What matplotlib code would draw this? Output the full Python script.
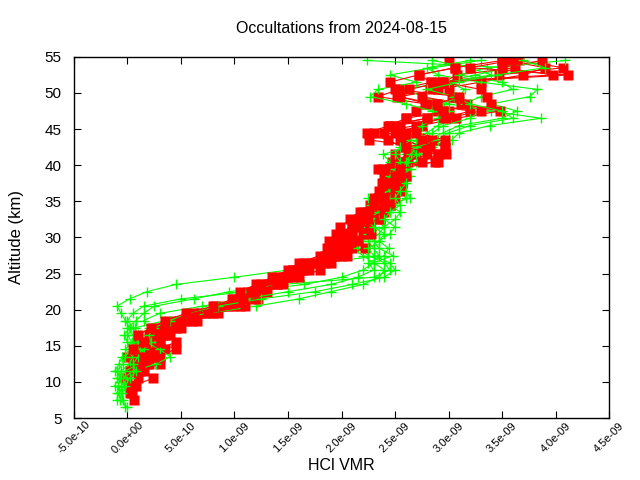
import numpy as np
import matplotlib
matplotlib.use("Agg")
import matplotlib.pyplot as plt

plt.rcParams['font.family'] = ['Liberation Sans', 'DejaVu Sans']

nan = np.nan
SCALE = 1e-9

# axis ticks
x_ticks = [-5e-10, 0.0, 5e-10, 1e-9, 1.5e-9, 2e-9, 2.5e-9, 3e-9, 3.5e-9, 4e-9, 4.5e-9]
x_tick_labels = ['-5.0e-10', '0.0e+00', '5.0e-10', '1.0e-09', '1.5e-09', '2.0e-09',
                 '2.5e-09', '3.0e-09', '3.5e-09', '4.0e-09', '4.5e-09']
y_ticks = [5, 10, 15, 20, 25, 30, 35, 40, 45, 50, 55]

# altitude grids (km)
green_alt = [6.5, 7.5, 8.5, 9.5, 10.5, 11.5, 12.5, 13.5, 14.5, 15.5,
             16.5, 17.5, 18.5, 19.5, 20.5, 21.5, 22.5, 23.5, 24.5, 25.5,
             26.5, 27.5, 28.5, 29.5, 30.5, 31.5, 32.5, 33.5, 34.5, 35.5,
             36.5, 37.5, 38.5, 39.5, 40.5, 41.5, 42.5, 43.5, 44.5, 45.5,
             46.5, 47.5, 48.5, 49.5, 50.5, 51.5, 52.5, 53.5, 54.5]
red_alt = green_alt[1:]

# HCl VMR profiles, units of 1e-9
green_1 = [0.0, -0.07, -0.05, -0.09, -0.06, -0.1, -0.04, -0.02, 0.03, 0.0,
           -0.03, 0.02, -0.02, -0.06, -0.1, 0.02, 0.18, 0.45, 1.0, 1.5,
           1.85, 2.35, 2.3, 2.25, 2.35, 2.4, 2.3, 2.45, 2.5, 2.6,
           2.55, 2.5, 2.62, 2.58, 2.7, 2.72, 2.85, 3.03, 3.1, 3.39,
           3.86, 3.4, 3.0, 2.75, 2.6, 2.95, 3.25, 3.55, 2.24]
green_2 = [nan, -0.1, -0.08, -0.03, -0.1, -0.06, 0.02, 0.05, -0.02, 0.04,
           0.0, 0.05, 0.0, 0.05, 0.15, 0.5, 1.1, 1.65, 2.0, 2.2,
           2.3, 2.2, 2.1, 2.2, 2.3, 2.25, 2.35, 2.4, 2.35, 2.45,
           2.5, 2.55, 2.5, 2.6, 2.65, 2.6, 2.75, 2.8, 2.95, 3.1,
           3.5, 3.64, 3.4, 3.76, 3.83, 3.3, 2.9, 2.8, 3.2]
green_3 = [-0.02, -0.04, -0.1, -0.06, 0.0, -0.12, -0.08, -0.05, 0.08, 0.1,
           0.05, 0.0, 0.08, 0.15, 0.25, 0.62, 0.95, 1.45, 2.3, 2.45,
           2.4, 2.25, 2.15, 2.1, 2.2, 2.3, 2.22, 2.3, 2.28, 2.25,
           2.4, 2.45, 2.55, 2.5, 2.45, 2.39, 2.6, 2.7, 2.8, 2.9,
           3.05, 2.85, 2.6, 2.27, 2.34, 2.7, 2.45, 2.85, 3.3]
green_4 = [nan, nan, -0.05, -0.12, -0.08, -0.02, 0.1, 0.2, 0.12, 0.05,
           0.1, 0.07, 0.35, 0.75, 1.2, 1.6, 1.9, 2.2, 2.35, 2.4,
           2.3, 2.48, 2.35, 2.3, 2.25, 2.4, 2.5, 2.55, 2.45, 2.64,
           2.6, 2.58, 2.64, 2.55, 2.62, 2.7, 2.65, 2.75, 2.85, 2.95,
           3.2, 3.3, 3.15, 3.3, 3.6, 3.5, 3.1, 3.36, 4.09]
green_5 = [nan, nan, nan, nan, -0.04, 0.05, 0.27, 0.4, 0.3, 0.18,
           0.12, 0.2, 0.15, 0.3, 0.7, 1.1, 1.5, 1.9, 2.15, 2.3,
           2.25, 2.4, 2.44, 2.35, 2.4, 2.3, 2.22, 2.35, 2.3, 2.3,
           2.45, 2.4, 2.45, 2.5, 2.55, 2.5, 2.55, 2.65, 2.7, 2.75,
           2.9, 3.0, 2.95, 3.1, 3.15, 3.0, 3.4, 3.2, 2.85]
green_6 = [nan, nan, nan, -0.02, 0.02, 0.08, 0.05, 0.1, 0.15, 0.22,
           0.2, 0.25, 0.4, 0.55, 0.85, 1.25, 1.75, 2.1, 2.4, 2.5,
           2.45, 2.3, 2.25, 2.35, 2.45, 2.5, 2.4, 2.45, 2.55, 2.5,
           2.55, 2.6, 2.55, 2.65, 2.6, 2.65, 2.7, 2.9, 3.0, 3.2,
           3.6, 3.5, 3.2, 3.05, 2.8, 3.1, 3.45, 3.9, 3.7]

red_1 = [0.06, 0.04, 0.03, -0.02, 0.05, 0.1, 0.0, 0.12, 0.1, 0.25,
         0.33, 0.44, 0.68, 0.9, 1.0, 1.13, 1.3, 1.45, 1.6, 1.75,
         1.85, 1.95, 2.05, 2.1, 2.2, 2.15, 2.3, 2.35, 2.45, 2.5,
         2.45, 2.55, 2.6, 2.55, 2.7, 2.75, 2.26, 2.3, 2.7, 2.95,
         3.2, 2.8, 2.55, 2.9, 3.3, 3.7, 3.9, 3.55]
red_2 = [nan, nan, 0.08, 0.0, 0.1, 0.05, 0.08, 0.2, 0.3, 0.28,
         0.4, 0.55, 0.8, 1.0, 1.1, 1.2, 1.35, 1.5, 1.64, 1.77,
         1.92, 2.0, 1.88, 2.0, 1.99, 2.08, 2.17, 2.27, 2.34, 2.39,
         2.38, 2.4, 2.34, 2.47, 2.5, 2.58, 2.43, 2.24, 2.45, 2.6,
         2.7, 2.78, 2.34, 2.54, 2.84, 2.72, 3.06, 3.0]
red_3 = [nan, 0.02, 0.05, 0.24, 0.15, 0.18, 0.1, 0.08, 0.2, 0.35,
         0.45, 0.6, 0.85, 1.05, 1.22, 1.25, 1.4, 1.55, 1.7, 1.85,
         2.05, 2.1, 1.97, 2.05, 2.1, 2.36, 2.38, 2.45, 2.39, 2.45,
         2.57, 2.6, 2.5, 2.62, 2.8, 2.83, 2.55, 2.55, 2.45, 2.8,
         2.9, 2.89, 2.52, 2.63, 2.95, 3.08, 3.62, 3.5]
red_4 = [nan, nan, nan, 0.1, 0.02, 0.2, 0.3, 0.28, 0.45, 0.4,
         0.38, 0.5, 0.72, 0.95, 1.05, 1.05, 1.2, 1.35, 1.5, 1.6,
         1.8, 1.86, 2.07, 2.2, 2.27, 2.2, 2.2, 2.3, 2.35, 2.4,
         2.5, 2.45, 2.45, 2.5, 2.62, 2.76, 2.6, 2.5, 2.75, 3.07,
         3.48, 3.12, 2.75, 2.83, 2.92, 3.47, 4.07, 3.66]
red_5 = [nan, nan, nan, nan, 0.12, 0.3, 0.22, 0.35, 0.2, 0.32,
         0.5, 0.65, 0.75, 1.1, 1.19, 1.3, 1.45, 1.6, 1.8, 1.9,
         2.0, 2.22, 2.15, 2.28, 2.27, 2.36, 2.3, 2.45, 2.5, 2.55,
         2.57, 2.6, 2.47, 2.75, 2.9, 2.97, 2.75, 2.6, 2.55, 2.6,
         3.0, 3.17, 3.03, 3.0, 2.84, 3.98, 3.5, 3.87]
red_6 = [nan, nan, nan, nan, nan, 0.12, 0.25, 0.45, 0.3, 0.2,
         0.3, 0.48, 0.62, 0.82, 0.98, 1.18, 1.25, 1.49, 1.55, 1.7,
         1.95, 2.05, 2.1, 1.95, 2.1, 2.25, 2.4, 2.3, 2.4, 2.5,
         2.4, 2.5, 2.38, 2.9, 2.98, 2.97, 2.85, 2.4, 2.5, 2.98,
         3.3, 3.4, 3.36, 3.3, 2.95, 4.12, 3.2, 3.58]
red_7 = [nan, nan, nan, nan, nan, nan, 0.15, 0.05, 0.15, 0.1,
         0.22, 0.35, 0.55, 0.8, 1.08, 1.15, 1.4, 1.4, 1.55, 1.65,
         1.9, 2.0, 2.0, 2.1, 2.15, 2.17, 2.25, 2.4, 2.3, 2.35,
         2.45, 2.55, 2.55, 2.87, 2.9, 2.6, 2.97, 2.7, 2.43, 2.8,
         2.95, 2.89, 3.1, 2.5, 2.45, 2.72, 3.06, 3.5]

green_profiles = [green_1, green_2, green_3, green_4, green_5, green_6]
red_profiles = [red_1, red_2, red_3, red_4, red_5, red_6, red_7]

fig = plt.figure(figsize=(6.4, 4.8), dpi=100)
ax = fig.add_axes([0.1156, 0.129, 0.836, 0.7525])

# interleave the two sets so neither one sits fully on top
n = max(len(green_profiles), len(red_profiles))
for i in range(n):
    if i < len(red_profiles):
        ax.plot(np.array(red_profiles[i]) * SCALE, red_alt, color='#ff0000',
                lw=0.8, marker='s', ms=6.8, mec='none')
    if i < len(green_profiles):
        ax.plot(np.array(green_profiles[i]) * SCALE, green_alt, color='#00ff00',
                lw=0.8, marker='+', ms=7, mew=1.0)

ax.set_xlim(-5e-10, 4.5e-9)
ax.set_ylim(5, 55)
ax.set_xticks(x_ticks)
ax.set_xticklabels(x_tick_labels, rotation=45, ha='center', va='center',
                   rotation_mode='anchor')
ax.set_yticks(y_ticks)

ax.tick_params(direction='in', length=5, width=0.8, top=True, right=True)
ax.tick_params(axis='y', labelsize=11, pad=9)
ax.tick_params(axis='x', labelsize=8, pad=14)
for sp in ax.spines.values():
    sp.set_linewidth(1.0)

ax.set_title('Occultations from 2024-08-15', fontsize=11.5, pad=17)
ax.set_xlabel('HCl VMR', fontsize=11.5, labelpad=2)
ax.set_ylabel('Altitude (km)', fontsize=12, labelpad=15)

fig.savefig('out.png', dpi=100)
